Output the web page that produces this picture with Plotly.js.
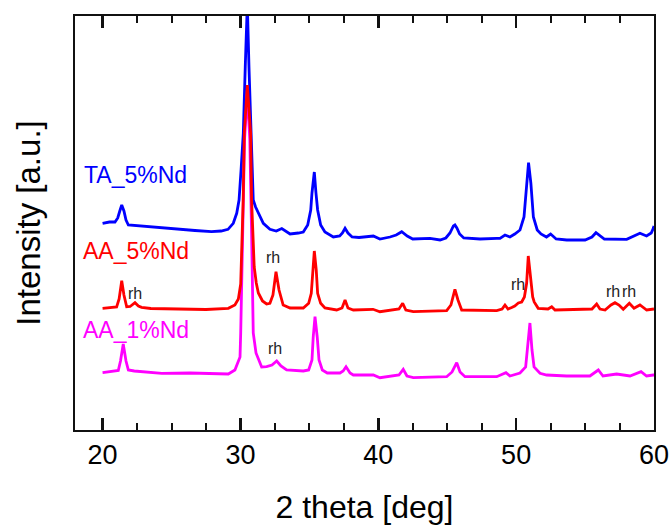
<!DOCTYPE html>
<html>
<head>
<meta charset="utf-8">
<script src="https://cdn.plot.ly/plotly-3.0.1.min.js"></script>
<style>html,body{margin:0;padding:0;background:#fff}#chart{width:672px;height:526px}</style>
</head>
<body>
<div id="chart"></div>
<script>
// 2 theta [deg] and intensity (a.u., stacked offsets)
const tthTA = [20.0,20.5,20.9,21.1,21.25,21.39,21.55,21.7,21.87,22.3,23.08,24.3,25.5,26.7,27.9,28.6,29.1,29.48,29.73,29.9,30.05,30.21,30.35,30.5,30.62,30.77,30.93,31.1,31.3,31.66,32.14,32.6,33.0,33.3,33.6,34.2,34.56,34.88,35.1,35.19,35.36,35.48,35.6,35.82,36.13,36.74,37.2,37.4,37.59,37.8,38.1,38.6,39.3,39.64,40.12,40.85,41.3,41.7,42.1,42.5,43.75,44.48,44.9,45.2,45.45,45.56,45.7,45.9,46.2,47.38,48.59,48.83,49.19,49.55,49.9,50.28,50.57,50.76,50.9,51.07,51.25,51.53,51.8,52.2,52.5,52.9,53.67,55.0,55.5,55.79,56.1,56.4,58.02,58.6,58.98,59.46,59.8,59.95,60.0];
const intTA = [205.7,207,207,211,218,224,218,209,204,203.5,202,201,199.7,198.5,197.3,198,199.7,205.7,215.7,229,260,296,362,425,362,296,229,222,215.7,205.7,199.7,198,200.5,198,195,196,197,204,219,236,257,236,219,204,197,192,193,196,200.7,196,192,191.5,192.5,193,190,192,194,197.3,193,190,190.7,189,191,196,203,204,201,195,191,190,190.7,190.7,194,192,195,199,212,245.7,266.3,245.7,212,199,195,192,195,190,189,189,192,196.3,193,190,189.7,193,195.7,193,196,200.7,203];

const tthAA5 = [20.0,20.5,21.02,21.2,21.39,21.55,21.75,22.0,22.35,22.6,22.83,23.5,25.6,27.5,29.12,29.6,29.85,30.02,30.2,30.28,30.5,30.74,30.81,30.9,31.0,31.15,31.3,31.6,31.9,32.14,32.36,32.58,32.8,33.1,33.6,34.56,34.95,35.14,35.24,35.36,35.5,35.6,35.82,36.13,36.98,37.37,37.59,37.8,38.19,39.62,40.12,41.5,41.77,42.0,42.54,44.96,45.27,45.56,45.78,46.05,48.59,48.98,49.19,49.41,49.68,49.9,50.16,50.4,50.6,50.76,50.88,51.07,51.2,51.31,51.6,52.31,52.58,52.82,54.15,55.5,55.84,56.08,56.45,56.88,57.17,57.46,57.77,58.21,58.55,58.98,59.47,59.95,60.0];
const intAA5 = [120.7,121,122,130,148.3,134,122.3,122.5,126.3,123,121.7,120.5,120,119.5,120.7,124,130,145,229,296,344,296,229,190,162,146,136,128,125,125.7,134,157.3,139,124,121,121,125.7,135.7,159,178,159,135.7,125.7,121,119,121,129,121,119,119.7,117.3,120,125.7,119,117.3,118.3,124,139.7,129,119,118.3,120,124,120,121.5,123,126,127,132,145.7,173,145.7,132,127,120.7,120,122.3,119,119.7,120,125,120,119,124,126.3,124,119.7,125.7,120.7,124,119,119.7,120];

const tthAA1 = [20.0,20.5,21.14,21.3,21.5,21.7,21.87,22.3,23.0,24.3,26.34,28.0,29.12,29.6,29.97,30.02,30.16,30.3,30.5,30.68,30.81,30.93,31.13,31.54,31.9,32.29,32.63,32.94,33.35,34.56,34.95,35.19,35.28,35.41,35.57,35.7,35.94,36.3,37.22,37.45,37.66,37.95,38.19,39.64,40.12,41.5,41.81,42.08,42.54,44.96,45.35,45.69,45.93,46.29,48.59,49.26,49.55,50.0,50.28,50.69,50.83,51.0,51.15,51.3,51.73,52.21,53.66,55.35,55.96,56.3,57.29,58.26,59.06,59.46,59.95,60.0];
const intAA1 = [56.3,57,58.5,68,85,68,59,58,57,55.7,56,55,55,59,72,96,196,290,335,290,196,96,76,62,62.3,64,68,63,59,58,59,69,92,112.3,92,69,59,56,56,58,62.3,56,54,54,51.3,54,59.7,53,51.3,52.3,57,66.3,57,52.3,52.3,56.3,53,54.5,56,62,79,106,79,62,55.7,54,53,53,59,53,55,53,57.3,53,54,54];

const seriesNames = ['TA_5%Nd','AA_1%Nd','AA_5%Nd'];
const seriesColors = ['#0000ff','#ff00ff','#ff0000'];

// sample labels
const labelText = ['TA_5%Nd','AA_5%Nd','AA_1%Nd'];
const labelX = [18.5,18.45,18.45];
const labelY = [254,178,99];
const labelColor = ['#0000ff','#ff0000','#ff00ff'];

// "rh" markers
const rhX = [22.35,32.38,32.5,50.16,57.03,58.21];
const rhY = [136,172,81,145,138,138];

const traces = [
  {x: tthTA, y: intTA, name: seriesNames[0], line: {color: seriesColors[0], width: 2.8}},
  {x: tthAA1, y: intAA1, name: seriesNames[1], line: {color: seriesColors[1], width: 2.8}},
  {x: tthAA5, y: intAA5, name: seriesNames[2], line: {color: seriesColors[2], width: 2.8}}
].map(t => Object.assign({type: 'scatter', mode: 'lines', hoverinfo: 'skip'}, t));

const annotations = [];
labelText.forEach((t, i) => annotations.push({
  x: labelX[i], y: labelY[i], xref: 'x', yref: 'y', text: t, showarrow: false,
  xanchor: 'left', yanchor: 'middle', font: {size: 23, color: labelColor[i]}
}));
rhX.forEach((x, i) => annotations.push({
  x: x, y: rhY[i], xref: 'x', yref: 'y', text: 'rh', showarrow: false,
  xanchor: 'center', yanchor: 'middle', font: {size: 16, color: '#222222'}
}));

const layout = {
  width: 672, height: 526,
  margin: {l: 75, r: 18, t: 16, b: 96},
  paper_bgcolor: '#ffffff', plot_bgcolor: '#ffffff',
  showlegend: false,
  font: {family: 'Liberation Sans, Arial, sans-serif', color: '#000000'},
  xaxis: {
    range: [18, 60], tickmode: 'linear', tick0: 0, dtick: 10,
    ticks: 'inside', ticklen: 12, tickwidth: 2.5, tickcolor: '#111111',
    minor: {dtick: 2.5, ticks: 'inside', ticklen: 7, tickwidth: 2, tickcolor: '#111111'},
    showline: true, linecolor: '#111111', linewidth: 2, mirror: 'ticks',
    showgrid: false, zeroline: false,
    tickfont: {size: 27, color: '#000000'},
    title: {text: '2 theta [deg]', font: {size: 32, color: '#000000'}, standoff: 26}
  },
  yaxis: {
    range: [-1, 413],
    showticklabels: false, ticks: '',
    showline: true, linecolor: '#111111', linewidth: 2, mirror: true,
    showgrid: false, zeroline: false,
    title: {text: 'Intensity [a.u.]', font: {size: 33, color: '#000000'}, standoff: 22}
  },
  annotations: annotations
};

Plotly.newPlot('chart', traces, layout, {staticPlot: true, displayModeBar: false});
</script>
</body>
</html>
